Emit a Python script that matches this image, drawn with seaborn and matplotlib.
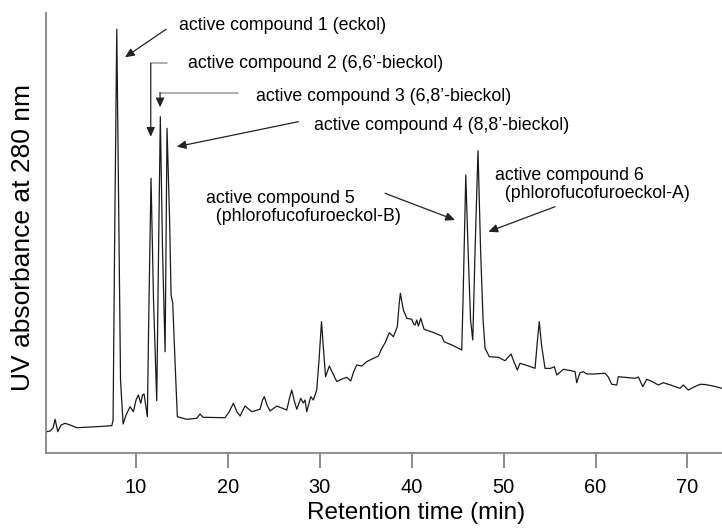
import matplotlib
matplotlib.use("Agg")
import matplotlib.pyplot as plt
import seaborn as sns
import pandas as pd

# HPLC trace (time in min, absorbance in arbitrary units)
time_min = [
    0.28, 0.64, 0.97, 1.19, 1.48, 1.84, 2.27, 2.82, 3.55, 4.99, 6.08, 7.36,
    7.50, 7.66, 7.90, 8.10, 8.31, 8.59, 8.91, 9.35, 9.71, 10.00, 10.25, 10.51,
    10.71, 10.87, 11.23, 11.41, 11.63, 11.90, 12.25, 12.45, 12.64, 12.88, 13.16,
    13.37, 13.65, 13.81, 13.99, 14.19, 14.49, 15.52, 16.61, 16.96, 17.29, 19.68,
    20.12, 20.59, 20.99, 21.32, 21.86, 22.59, 23.49, 23.76, 23.96, 24.25, 24.58,
    25.31, 26.40, 26.70, 26.94, 27.19, 27.49, 27.92, 28.20, 28.39, 28.57, 29.01,
    29.29, 29.66, 29.91, 30.18, 30.40, 30.62, 31.03, 31.44, 31.84, 32.42, 32.93,
    33.36, 33.67, 34.01, 34.56, 35.10, 35.68, 36.37, 36.74, 37.09, 37.56, 38.00,
    38.29, 38.43, 38.62, 38.76, 38.89, 39.09, 39.46, 40.00, 40.20, 40.36, 40.54,
    40.72, 40.98, 41.34, 42.21, 43.26, 43.51, 44.38, 45.44, 45.58, 45.88, 46.13,
    46.40, 46.64, 46.89, 47.21, 47.49, 47.76, 47.98, 48.44, 49.42, 50.15, 50.80,
    51.13, 51.49, 51.78, 52.55, 53.42, 53.63, 53.88, 54.12, 54.50, 55.05, 55.52,
    55.78, 56.50, 57.23, 57.77, 57.95, 58.31, 58.67, 59.04, 59.76, 61.03, 61.39,
    61.76, 62.31, 62.48, 63.43, 64.30, 64.66, 65.14, 65.57, 66.15, 66.83, 67.38,
    68.32, 69.19, 69.55, 70.10, 70.72, 71.37, 71.91, 72.79, 73.76,
]
absorbance = [
    21.3, 22.0, 25.0, 33.7, 21.3, 28.0, 29.7, 28.0, 25.3, 26.0, 26.5, 27.3,
    33.0, 203.0, 423.7, 253.0, 73.0, 29.0, 38.0, 46.3, 41.3, 53.0, 58.0, 49.7,
    58.0, 59.0, 36.3, 153.0, 274.7, 153.0, 52.3, 203.0, 336.3, 203.0, 101.3,
    324.7, 233.0, 158.0, 150.0, 103.0, 36.3, 33.7, 34.7, 39.0, 35.7, 35.3,
    41.0, 49.7, 41.0, 37.0, 47.0, 41.3, 43.7, 53.0, 56.3, 48.0, 42.0,
    47.0, 43.0, 55.0, 63.0, 53.0, 43.7, 54.7, 50.0, 53.0, 41.3, 56.3,
    53.0, 63.0, 93.0, 131.3, 103.0, 76.3, 87.0, 79.0, 71.5, 74.0, 75.7,
    72.0, 81.0, 88.0, 87.0, 91.3, 94.0, 97.0, 104.7, 110.0, 120.3, 116.3,
    123.0, 126.3, 148.0, 159.7, 153.0, 143.0, 134.7, 133.7, 129.0, 128.0, 133.0,
    127.0, 134.7, 123.7, 121.0, 117.0, 111.3, 108.0, 103.0, 153.0, 278.0, 203.0,
    133.0, 113.0, 203.0, 302.3, 203.0, 133.0, 104.7, 96.3, 95.7, 92.3, 99.0,
    91.0, 83.0, 89.7, 87.5, 84.7, 108.0, 131.3, 108.0, 84.7, 84.5, 86.3,
    78.0, 83.7, 82.5, 81.3, 70.3, 80.3, 81.3, 79.0, 79.0, 79.7, 76.0,
    68.7, 68.0, 76.3, 75.5, 74.7, 76.0, 66.3, 73.7, 71.5, 68.0, 70.3,
    67.5, 64.7, 68.0, 63.0, 66.0, 68.7, 68.5, 67.0, 64.7,
]
xticks = [10, 20, 30, 40, 50, 60, 70]

sns.set_style("ticks")
plt.rcParams["font.family"] = ["Liberation Sans", "DejaVu Sans"]
plt.rcParams["text.color"] = "black"
plt.rcParams["axes.labelcolor"] = "black"

fig, ax = plt.subplots(figsize=(7.22, 5.28), dpi=100)
ax.set_position([46 / 722, 75 / 528, 676 / 722, 440 / 528])

df = pd.DataFrame({"time": time_min, "abs": absorbance})
sns.lineplot(data=df, x="time", y="abs", ax=ax, color="#1a1a1a",
             linewidth=0.9, estimator=None)

ax.set_xlim(0.2, 73.76)
ax.set_ylim(0, 440)
ax.set_xticks(xticks)
ax.set_yticks([])
sns.despine(ax=ax)
for side in ("left", "bottom"):
    ax.spines[side].set_color("#858585")
    ax.spines[side].set_linewidth(1.3)
ax.tick_params(axis="x", direction="out", length=10.8, width=1.3,
               color="#858585", pad=7, labelsize=14.4, labelcolor="black")

ax.set_xlabel("Retention time (min)", fontsize=17.5)
ax.xaxis.set_label_coords(0.547, -0.137)
ax.xaxis.label.set_va("center")
ax.set_ylabel("UV absorbance at 280 nm", fontsize=19)
ax.yaxis.set_label_coords(-0.0345, 0.489)
ax.yaxis.label.set_va("center")

# peak labels
arrow = dict(arrowstyle="-|>,head_length=0.55,head_width=0.25",
             color="#222222", lw=0.9, shrinkA=0, shrinkB=0)
grey = "#9a9a9a"

def label(x, y, text):
    ax.text(x, y, text, fontsize=12.8, ha="left", va="center",
            linespacing=1.05, color="black")

label(14.68, 428, "active compound 1 (eckol)")
ax.annotate("", xy=(8.80, 395.7), xytext=(13.26, 423.7), arrowprops=arrow)

label(15.69, 389.7, "active compound 2 (6,6\u2019-bieckol)")
ax.plot([13.34, 11.60], [389.7, 389.7], color=grey, lw=1.1)
ax.annotate("", xy=(11.60, 316.3), xytext=(11.60, 389.7), arrowprops=arrow)

label(23.06, 356.3, "active compound 3 (6,8\u2019-bieckol)")
ax.plot([21.13, 12.61], [360.3, 360.3], color=grey, lw=1.1)
ax.annotate("", xy=(12.61, 345.7), xytext=(12.61, 360.3), arrowprops=arrow)

label(29.37, 328, "active compound 4 (8,8\u2019-bieckol)")
ax.annotate("", xy=(14.43, 306.3), xytext=(27.66, 331.3), arrowprops=arrow)

label(17.62, 245.5, "active compound 5\n  (phlorofucofuroeckol-B)")
ax.annotate("", xy=(44.71, 233), xytext=(37.09, 259.7), arrowprops=arrow)

label(49.06, 268.8, "active compound 6\n  (phlorofucofuroeckol-A)")
ax.annotate("", xy=(48.34, 221.3), xytext=(55.59, 246.3), arrowprops=arrow)

fig.savefig("out.png", dpi=100)
